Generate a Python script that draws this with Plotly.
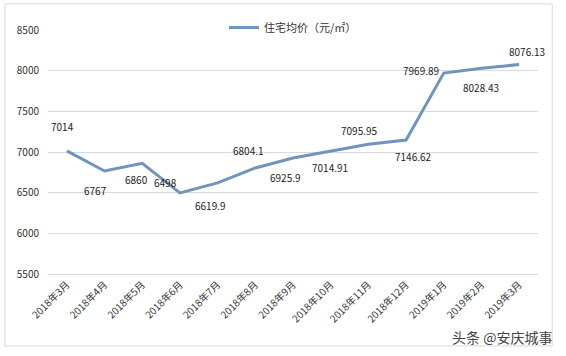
import plotly.graph_objects as go

categories = ["2018年3月", "2018年4月", "2018年5月", "2018年6月", "2018年7月", "2018年8月",
              "2018年9月", "2018年10月", "2018年11月", "2018年12月", "2019年1月", "2019年2月", "2019年3月"]
prices = [7014, 6767, 6860, 6498, 6619.9, 6804.1, 6925.9, 7014.91, 7095.95, 7146.62, 7969.89, 8028.43, 8076.13]
series_name = "住宅均价（元/㎡）"
y_ticks = [5500, 6000, 6500, 7000, 7500, 8000, 8500]

# label pixel offsets (style only)
label_dx = [-4, -9, -6, -14, -7, -7, -8, -1, -9, 7, -23, 0, 8]
label_dy = [24, -20, -16, 10, -23, 17, -19, -17, 14, -16, 3, -19, 13]

FONT = "Noto Sans CJK SC, Liberation Sans, sans-serif"
LINE_COLOR = "#7094bd"

fig = go.Figure()
fig.add_trace(go.Scatter(
    x=categories, y=prices, mode="lines", name=series_name,
    line=dict(color=LINE_COLOR, width=3),
))

for c, v, dx, dy in zip(categories, prices, label_dx, label_dy):
    fig.add_annotation(x=c, y=v, text=f"{v:g}", showarrow=False,
                       xshift=dx, yshift=dy,
                       font=dict(family=FONT, size=10, color="#222222"))

# watermark
fig.add_annotation(xref="paper", yref="paper", x=1.033, y=-0.26, xanchor="right", yanchor="middle",
                   text="头条 @安庆城事", showarrow=False,
                   font=dict(family=FONT, size=14, color="#444444"))

# chart border
fig.add_shape(type="rect", xref="paper", yref="paper",
              x0=-0.088, x1=1.029, y0=-0.295, y1=1.107,
              line=dict(color="#d9d9d9", width=1), fillcolor="rgba(0,0,0,0)", layer="below")

fig.update_layout(
    width=566, height=356,
    margin=dict(l=48, r=28, t=30, b=82, autoexpand=False),
    paper_bgcolor="white", plot_bgcolor="white",
    font=dict(family=FONT, size=10, color="#333333"),
    showlegend=True,
    legend=dict(orientation="h", x=0.5, xanchor="center", y=1.01, yanchor="middle",
                font=dict(family=FONT, size=11, color="#333333"),
                bgcolor="rgba(0,0,0,0)", itemwidth=30),
    xaxis=dict(type="category", range=[-0.5, len(categories) - 0.5],
               showgrid=False, showline=True, linecolor="#d9d9d9", linewidth=1,
               zeroline=False, ticks="",
               tickangle=-45, tickfont=dict(family=FONT, size=10, color="#333333")),
    yaxis=dict(range=[5500, 8500], tickvals=y_ticks, showgrid=True, gridcolor="#d9d9d9",
               gridwidth=1, zeroline=False, showline=False, ticks="",
               ticklabelstandoff=8, tickfont=dict(family=FONT, size=10, color="#333333")),
)

fig.write_html("out.html", post_script="document.body.style.margin='0';",
               config={"displayModeBar": False})
